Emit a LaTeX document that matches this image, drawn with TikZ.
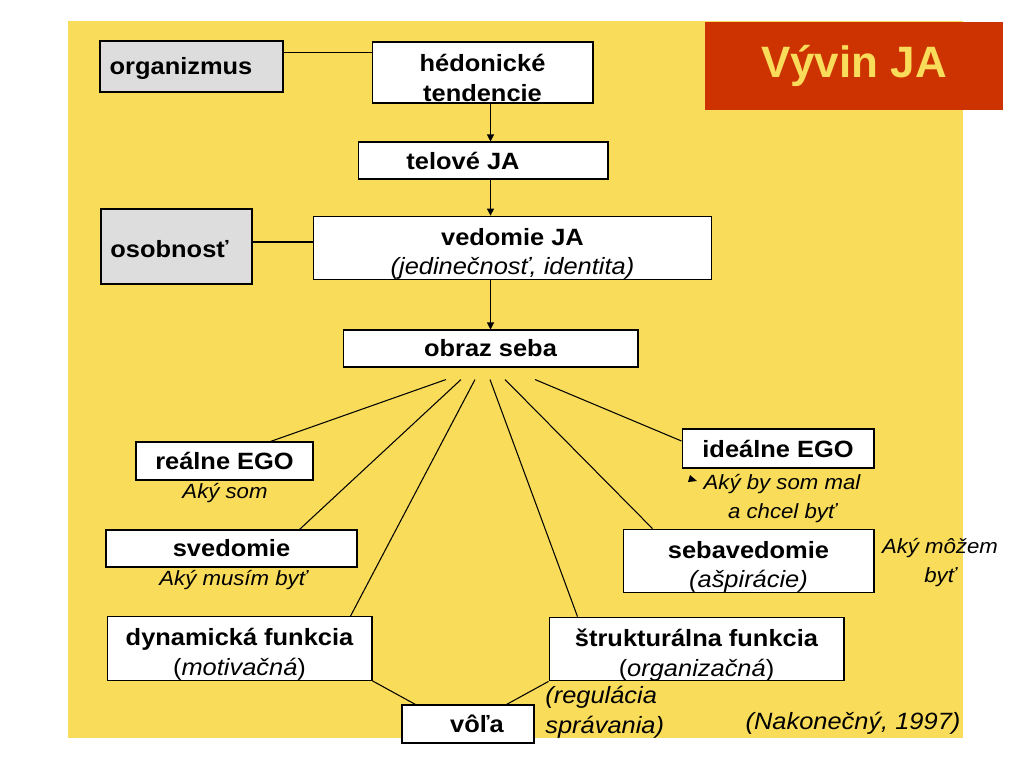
\documentclass[tikz,border=0pt]{standalone}
\usepackage{fontspec}
\setmainfont{Liberation Sans}[FakeStretch=1.08]
\newfontfamily\titlefont{Liberation Sans}
\usetikzlibrary{arrows.meta, calc}
\definecolor{SlideYellow}{HTML}{F9DC5A}
\definecolor{SlideRed}{HTML}{CC3300}
\definecolor{SlideGray}{HTML}{DDDDDD}
\newcommand{\diagfont}{\fontsize{13.4}{17}\selectfont}
\newcommand{\smallfont}{\fontsize{11.7}{16}\selectfont}
\newcommand{\upstrut}{\rule{0pt}{0.58cm}}
\tikzset{
    box/.style={
        draw=black,
        line width=0.6pt,
        fill=#1,
        inner sep=0pt,
        text=black,
        font=\diagfont\bfseries,
        align=center
    },
    box/.default=white,
    note/.style={
        inner sep=0pt,
        text=black,
        font=\diagfont\itshape,
        align=center
    },
    smallnote/.style={
        note,
        font=\smallfont\itshape
    },
    link/.style={
        line width=0.6pt,
        black
    },
    arrow/.style={
        -{Triangle[length=0.14cm, width=0.14cm]},
        line width=0.6pt,
        black
    },
    titlebox/.style={
        fill=SlideRed,
        inner sep=0pt,
        minimum width=5.96cm,
        minimum height=1.76cm,
        text=SlideYellow,
        font=\titlefont\fontsize{25}{30}\selectfont\bfseries
    }
}

\begin{document}
\begin{tikzpicture}[x=0.02cm, y=-0.02cm]
        % Slide background
        \fill[white] (0,0) rectangle (1024,768);
        \fill[SlideYellow] (68,21) rectangle (963,738);
        \node[titlebox] (title) at (854,66) {Vývin JA};

        % Main chain
        \node[box=SlideGray, minimum width=3.66cm, minimum height=1.02cm] (organizmus) at (191.5,66.5) {\rule{0pt}{0.42cm}organizmus\hspace*{0.42cm}};
        \node[box, minimum width=4.42cm, minimum height=1.22cm] (hedon) at (482.5,72.5) {\upstrut hédonické\\tendencie};
        \node[box, minimum width=5cm, minimum height=0.74cm] (telove) at (483,160.5) {telové JA\hspace*{0.8cm}};
        \node[box=SlideGray, minimum width=3.02cm, minimum height=1.5cm] (osobnost) at (176.5,246.5) {\rule{0pt}{0.44cm}osobnosť\hspace*{0.28cm}};
        \node[box, minimum width=7.98cm, minimum height=1.24cm] (vedomie) at (512.5,248) {\upstrut vedomie JA\\\textmd{\textit{(jedinečnosť, identita)}}};
        \node[box, minimum width=5.9cm, minimum height=0.74cm] (obraz) at (490.5,348.5) {obraz seba};

        % Parts of the self-image
        \node[box, minimum width=3.54cm, minimum height=0.76cm] (realne) at (224.5,461) {reálne EGO};
        \node[smallnote] (akysom) at (225,493) {Aký som};
        \node[box, minimum width=3.84cm, minimum height=0.78cm] (idealne) at (778,448.5) {ideálne EGO};
        \node[smallnote] (akyby) at (782,498.5) {Aký by som mal\\a chcel byť};
        \node[box, minimum width=5.02cm, minimum height=0.74cm] (svedomie) at (231.5,548.5) {svedomie};
        \node[smallnote] (akymusim) at (233,580) {Aký musím byť};
        \node[box, minimum width=5.02cm, minimum height=1.24cm] (sebaved) at (748.5,561) {\upstrut sebavedomie\\\textmd{\textit{(ašpirácie)}}};
        \node[smallnote] (akymozem) at (940,562.5) {Aký môžem\\byť};
        \node[box, minimum width=5.3cm, minimum height=1.26cm] (dynam) at (239.5,648.5) {\upstrut dynamická funkcia\\\textmd{(\textit{motivačná})}};
        \node[box, minimum width=5.9cm, minimum height=1.24cm] (strukt) at (696.5,649) {\upstrut štrukturálna funkcia\\\textmd{(\textit{organizačná})}};
        \node[box, minimum width=2.64cm, minimum height=0.76cm] (vola) at (468,724) {\hspace*{0.36cm}vôľa};
        \node[note, anchor=west, align=left] (regulacia) at (545,712) {(regulácia\\správania)};
        \node[note] (zdroj) at (853,723) {(Nakonečný, 1997)};
        \fill (690,475) -- (688,482) -- (697,481) -- cycle;

        % Connectors
        \coordinate (orgout) at ($(organizmus.north east)+(0,12)$);
        \coordinate (osobout) at ($(osobnost.east)+(0,-4.5)$);
        \draw[link] (orgout) -- (orgout -| hedon.west);
        \draw[link] (osobout) -- (osobout -| vedomie.west);
        \draw[arrow] (hedon.south -| obraz.north) -- (telove.north -| obraz.north);
        \draw[arrow] (telove.south -| obraz.north) -- (vedomie.north -| obraz.north);
        \draw[arrow] (vedomie.south -| obraz.north) -- (obraz.north);

        \foreach \n/\dx in {1/-44.5, 2/-29.5, 3/-15.5, 4/-0.5, 5/14.5, 6/44.5}
            \coordinate (f\n) at ($(obraz.south)+(\dx,12)$);
        \draw[link] (f1) -- ([xshift=2.7cm]realne.north west);
        \draw[link] (f2) -- ([xshift=3.88cm]svedomie.north west);
        \draw[link] (f3) -- ([xshift=-0.44cm]dynam.north east);
        \draw[link] (f4) -- ([xshift=0.58cm]strukt.north west);
        \draw[link] (f5) -- ([xshift=0.6cm]sebaved.north west);
        \draw[link] (f6) -- ([yshift=0.15cm]idealne.west);

        \draw[link] (dynam.south east) -- ([xshift=0.28cm]vola.north west);
        \draw[link] (strukt.south west) -- ([xshift=-0.56cm]vola.north east);
\end{tikzpicture}
\end{document}
